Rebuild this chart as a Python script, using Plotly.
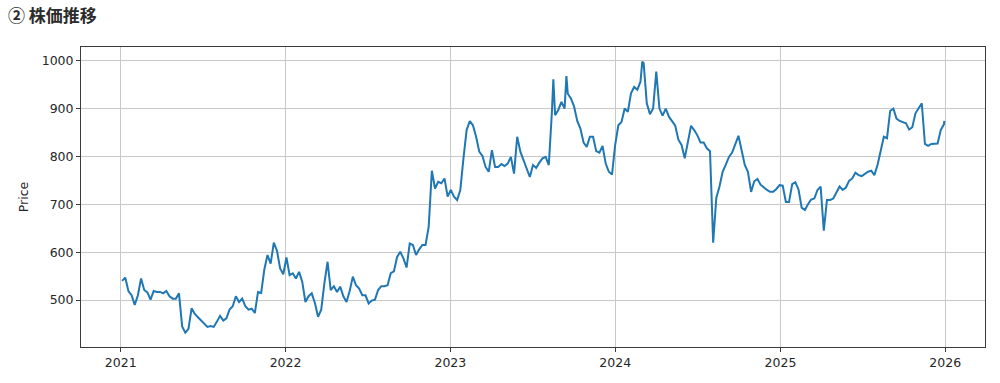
import pandas as pd
import plotly.graph_objects as go

# Weekly (Monday) closing prices, starting 2021-01-04
start_date = "2021-01-04"
prices_2021 = [540, 547, 519, 510, 490, 510, 545, 521, 516, 501, 519, 517, 517, 514, 519, 508,
               503, 503, 514, 445, 432, 440, 483, 471, 464, 458, 451, 444, 446, 444, 455, 467,
               457, 462, 480, 487, 508, 496, 503, 487, 480, 482, 473, 517, 515, 564, 594, 576,
               620, 603, 566, 554]
prices_2022 = [589, 552, 556, 545, 559, 538, 496, 508, 514, 494, 465, 480, 535, 580, 521, 529,
               517, 528, 508, 496, 519, 549, 531, 524, 510, 510, 493, 499, 501, 521, 529, 529,
               531, 556, 560, 590, 601, 587, 568, 618, 615, 594, 606, 615, 615, 653, 770, 733,
               747, 744, 754, 716]
prices_2023 = [730, 716, 709, 730, 796, 855, 874, 865, 841, 810, 801, 778, 768, 813, 778, 778,
               784, 780, 785, 799, 764, 841, 810, 792, 771, 757, 782, 776, 787, 796, 799, 782,
               895, 886, 897, 914, 900, 931, 921, 904, 874, 858, 829, 820, 841, 841, 811, 808,
               822, 785, 768, 762]
prices_2024 = [824, 865, 872, 900, 893, 932, 945, 939, 956, 995, 911, 888, 900, 977, 900, 885,
               900, 883, 874, 864, 835, 824, 796, 831, 864, 855, 844, 829, 829, 817, 811, 620,
               714, 737, 768, 783, 799, 808, 824, 843, 813, 782, 768, 726, 748, 753, 741, 735,
               730, 726, 726, 732]
prices_2025 = [740, 739, 705, 705, 742, 746, 731, 693, 688, 700, 710, 712, 730, 737, 645, 709,
               709, 712, 723, 737, 730, 735, 749, 754, 766, 761, 759, 764, 768, 770, 761, 782,
               815, 841, 838, 895, 900, 879, 874, 872, 869, 856, 861, 890, 900, 911, 826, 822,
               826, 827, 827, 855, 867]

# Extra daily extremes
extra_dates = ["2023-08-17", "2023-09-15", "2024-03-01", "2025-12-30"]
extra_prices = [961, 968, 998, 874]

weekly = prices_2021 + prices_2022 + prices_2023 + prices_2024 + prices_2025
weekly_dates = pd.date_range(start_date, periods=len(weekly), freq="W-MON")

df = pd.concat([
    pd.DataFrame({"date": weekly_dates, "price": weekly}),
    pd.DataFrame({"date": pd.to_datetime(extra_dates), "price": extra_prices}),
]).sort_values("date")

year_ticks = ["2021-01-01", "2022-01-01", "2023-01-01", "2024-01-01", "2025-01-01", "2026-01-01"]
year_labels = ["2021", "2022", "2023", "2024", "2025", "2026"]
y_ticks = [500, 600, 700, 800, 900, 1000]

fig = go.Figure()
fig.add_trace(go.Scatter(
    x=df["date"], y=df["price"], mode="lines",
    line=dict(color="#1f77b4", width=2),
    hoverinfo="x+y", showlegend=False,
))

axis_font = dict(family="DejaVu Sans", size=12.5, color="#262626")
fig.update_layout(
    width=1000, height=383,
    margin=dict(l=81, r=15, t=47, b=36),
    paper_bgcolor="white", plot_bgcolor="white",
    title=dict(
        text="<b>② 株価推移</b>",
        x=0.008, xref="container", xanchor="left",
        y=1 - 16 / 383, yref="container", yanchor="middle",
        font=dict(family="Noto Sans CJK JP", size=17, color="#2b2b2b"),
    ),
    xaxis=dict(
        type="date",
        range=["2020-10-05", "2026-03-30"],
        tickvals=year_ticks, ticktext=year_labels,
        showgrid=True, gridcolor="#c8c8c8", gridwidth=1,
        showline=True, linecolor="#3a3a3a", linewidth=1, mirror=True,
        ticks="outside", ticklen=4, tickcolor="#3a3a3a",
        tickfont=axis_font, zeroline=False,
    ),
    yaxis=dict(
        range=[402, 1028.5],
        tickvals=y_ticks,
        showgrid=True, gridcolor="#c8c8c8", gridwidth=1,
        showline=True, linecolor="#3a3a3a", linewidth=1, mirror=True,
        ticks="outside", ticklen=4, tickcolor="#3a3a3a",
        tickfont=axis_font, zeroline=False,
        title=dict(text="Price", font=axis_font, standoff=10),
    ),
)

fig.write_html("out.html")
